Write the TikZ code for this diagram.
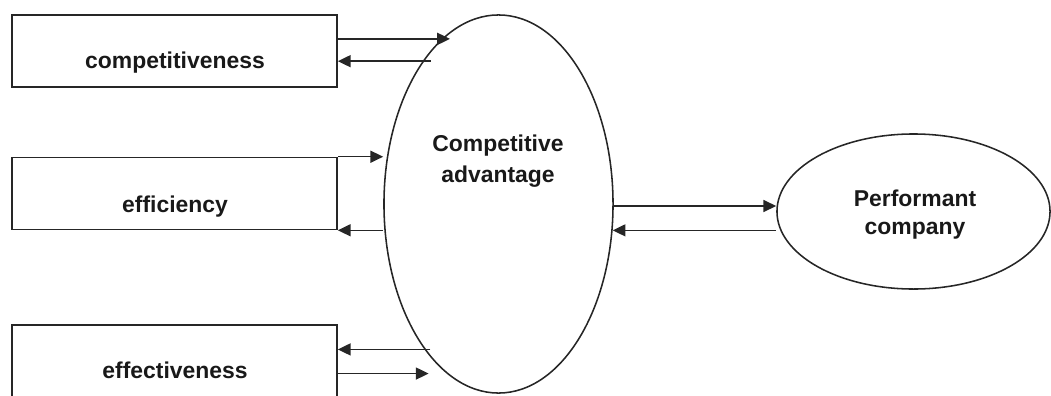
\documentclass[tikz,border=0pt]{standalone}
\usepackage{fontspec}
\setmainfont{Liberation Sans}
\usetikzlibrary{arrows.meta,shapes.geometric}
\begin{document}
\begin{tikzpicture}
  [x=0.025cm,y=-0.025cm,line width=1.1pt,
   box/.style={rectangle,draw=black!85,minimum width=8.125cm,minimum height=1.8cm,inner sep=0pt},
   oval/.style={ellipse,draw=black!85,inner sep=0pt},
   lbl/.style={font=\bfseries\fontsize{16.3}{22}\selectfont,align=center,text=black!90},
   arr/.style={draw=black!85,-{Triangle[length=0.32cm,width=0.3cm]}}]
\useasboundingbox (0,0) rectangle (1051,395);
\clip (0,0) rectangle (1051,395);
  \node[box] (comp) at (174.5,51) {};
  \node[box] (eff) at (174.5,193.5) {};
  \node[box] (effe) at (174.5,361) {};
  \node[oval,minimum width=5.725cm,minimum height=9.45cm] (adv) at (498.5,204) {};
  \node[oval,minimum width=6.825cm,minimum height=3.875cm] (perf) at (913.5,211.5) {};

  \node[lbl,anchor=base] (compt) at (175,68) {competitiveness};
  \node[lbl,anchor=base] (efft) at (175,212) {efficiency};
  \node[lbl,anchor=base] (effet) at (175,378) {effectiveness};
  \node[lbl] (advt) at (498,161.5) {Competitive\\advantage};
  \node[lbl,font=\bfseries\fontsize{16.3}{20}\selectfont] (perft) at (915,215) {Performant\\company};

  \draw[arr] (adv.109 -| comp.east) -- ([xshift=0.21cm]adv.109);
  \draw[arr] ([xshift=0.2cm]adv.118) -- (adv.118 -| comp.east);
  \draw[arr] (eff.north east) -- (eff.north east -| adv.west);
  \draw[arr] (eff.south east -| adv.west) -- (eff.south east);
  \draw[arr] ([xshift=0.15cm]adv.243) -- (adv.243 -| effe.east);
  \draw[arr] (adv.253 -| effe.east) -- ([xshift=-0.45cm]adv.253);

  \draw[arr] ([yshift=-0.05cm]adv.east) -- ([yshift=-0.05cm]adv.east -| perf.west);
  \draw[arr] (perf.west |- adv.-13) -- (adv.-13);
\end{tikzpicture}
\end{document}
